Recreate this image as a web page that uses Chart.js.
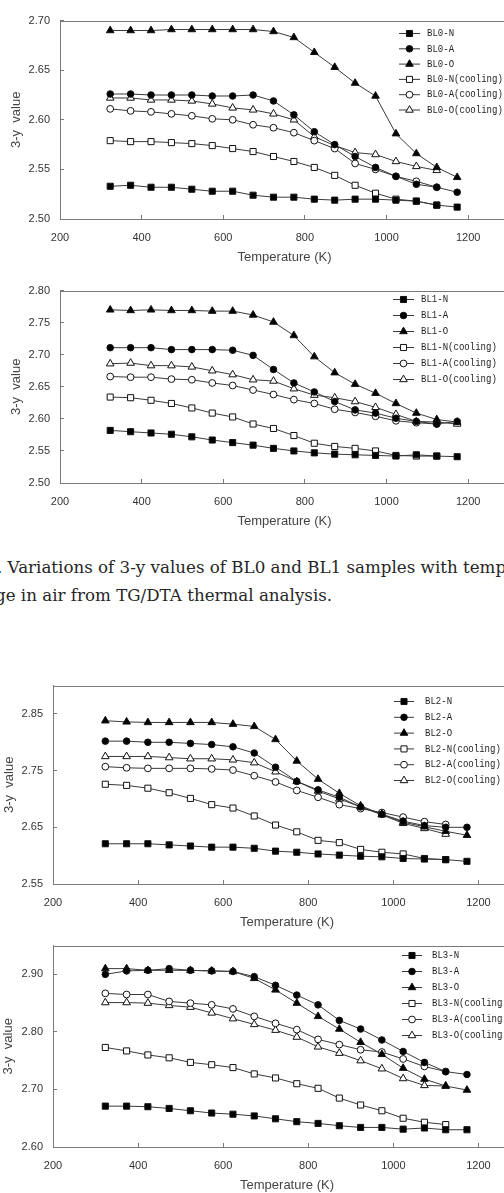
<!DOCTYPE html>
<html><head><meta charset="utf-8">
<script src="https://cdn.jsdelivr.net/npm/chart.js@4/dist/chart.umd.min.js"></script>
<style>
html,body{margin:0;padding:0;background:#fff;width:504px;height:1193px;overflow:hidden;position:relative}
.wrap{position:absolute;left:0;overflow:hidden;width:504px}
canvas{display:block}
.cap{position:absolute;font-family:"DejaVu Serif";font-size:16.7px;color:#262626;white-space:nowrap;line-height:20px}
</style></head><body>
<div class="wrap" style="top:0;height:270px"><canvas id="c1" width="560" height="270"></canvas></div>
<div class="wrap" style="top:270px;height:264px"><canvas id="c2" width="560" height="264"></canvas></div>
<div class="cap" style="left:-3px;top:557px">. Variations of 3-y values of BL0 and BL1 samples with temperature</div>
<div class="cap" style="left:-5px;top:585px">ge in air from TG/DTA thermal analysis.</div>
<div class="wrap" style="top:665px;height:265px"><canvas id="c3" width="560" height="270"></canvas></div>
<div class="wrap" style="top:925px;height:268px"><canvas id="c4" width="560" height="273"></canvas></div>
<script>
// ---- data ----
const temps = [323,373,423,473,523,573,623,673,723,773,823,873,923,973,1023,1073,1123,1173];
const xTicks = [200,400,600,800,1000,1200];
const yTicks1 = [2.50,2.55,2.60,2.65,2.70];
const yTicks2 = [2.50,2.55,2.60,2.65,2.70,2.75,2.80];
const yTicks3 = [2.55,2.65,2.75,2.85];
const yTicks4 = [2.60,2.70,2.80,2.90];
const suffixes = ["-N","-A","-O","-N(cooling)","-A(cooling)","-O(cooling)"];

const bl0N  = [2.533,2.534,2.532,2.532,2.530,2.528,2.528,2.524,2.522,2.522,2.520,2.519,2.520,2.520,2.519,2.518,2.514,2.512];
const bl0A  = [2.626,2.626,2.625,2.625,2.625,2.624,2.624,2.625,2.619,2.605,2.588,2.575,2.563,2.552,2.543,2.535,2.532,2.527];
const bl0O  = [2.690,2.690,2.690,2.691,2.691,2.691,2.691,2.691,2.689,2.683,2.668,2.653,2.637,2.624,2.586,2.566,2.552,2.542];
const bl0Nc = [2.579,2.578,2.578,2.577,2.576,2.574,2.571,2.568,2.563,2.558,2.552,2.544,2.534,2.526,2.520,2.518,2.514];
const bl0Ac = [2.611,2.609,2.608,2.606,2.604,2.601,2.600,2.595,2.592,2.587,2.579,2.571,2.556,2.550,2.543,2.538,2.532];
const bl0Oc = [2.622,2.622,2.620,2.620,2.619,2.616,2.612,2.610,2.606,2.600,2.583,2.574,2.567,2.565,2.558,2.553,2.549];

const bl1N  = [2.582,2.580,2.578,2.576,2.572,2.567,2.563,2.559,2.554,2.550,2.547,2.545,2.544,2.543,2.542,2.544,2.542,2.541];
const bl1A  = [2.711,2.711,2.711,2.708,2.708,2.708,2.707,2.699,2.677,2.656,2.642,2.627,2.614,2.609,2.601,2.596,2.592,2.596];
const bl1O  = [2.770,2.769,2.770,2.769,2.769,2.768,2.768,2.762,2.751,2.730,2.697,2.672,2.654,2.640,2.624,2.609,2.599,2.595];
const bl1Nc = [2.634,2.633,2.629,2.624,2.617,2.609,2.603,2.592,2.585,2.574,2.562,2.557,2.554,2.550,2.543,2.542,2.542];
const bl1Ac = [2.666,2.665,2.665,2.662,2.661,2.656,2.652,2.645,2.638,2.630,2.624,2.615,2.610,2.604,2.597,2.594,2.592];
const bl1Oc = [2.686,2.687,2.683,2.683,2.681,2.675,2.669,2.661,2.659,2.647,2.637,2.633,2.627,2.618,2.607,2.596,2.595,2.592];

const bl2N  = [2.621,2.621,2.621,2.619,2.617,2.615,2.615,2.613,2.608,2.606,2.603,2.601,2.599,2.598,2.595,2.594,2.593,2.590];
const bl2A  = [2.802,2.802,2.800,2.800,2.798,2.796,2.792,2.781,2.756,2.731,2.716,2.703,2.686,2.673,2.661,2.653,2.650,2.650];
const bl2O  = [2.838,2.836,2.835,2.835,2.835,2.835,2.832,2.828,2.805,2.767,2.735,2.710,2.688,2.673,2.659,2.651,2.643,2.636];
const bl2Nc = [2.726,2.724,2.719,2.711,2.701,2.690,2.684,2.670,2.654,2.642,2.627,2.623,2.611,2.606,2.603,2.595,2.593];
const bl2Ac = [2.757,2.755,2.754,2.754,2.754,2.753,2.751,2.741,2.730,2.715,2.703,2.690,2.683,2.676,2.668,2.660,2.655];
const bl2Oc = [2.775,2.775,2.775,2.773,2.771,2.771,2.769,2.764,2.748,2.731,2.714,2.700,2.686,2.672,2.657,2.648,2.638];

const bl3N  = [2.671,2.671,2.670,2.667,2.663,2.659,2.657,2.654,2.649,2.644,2.641,2.637,2.634,2.634,2.631,2.633,2.630,2.630];
const bl3A  = [2.900,2.906,2.907,2.910,2.907,2.906,2.905,2.896,2.881,2.864,2.847,2.820,2.805,2.786,2.766,2.747,2.731,2.726];
const bl3O  = [2.910,2.910,2.907,2.907,2.907,2.906,2.905,2.893,2.873,2.850,2.827,2.805,2.782,2.761,2.737,2.718,2.706,2.699];
const bl3Nc = [2.773,2.767,2.760,2.755,2.747,2.743,2.738,2.727,2.720,2.710,2.702,2.685,2.673,2.663,2.650,2.643,2.639];
const bl3Ac = [2.867,2.865,2.865,2.853,2.850,2.847,2.840,2.827,2.815,2.804,2.787,2.778,2.769,2.765,2.753,2.740,2.731];
const bl3Oc = [2.851,2.851,2.850,2.846,2.843,2.833,2.823,2.813,2.803,2.791,2.774,2.763,2.750,2.736,2.719,2.707,2.706];

// ---- styles ----
const LINE = '#3a3a3a', AXIS = '#7a7a7a', TXT = '#333';
const markStyles = [
  {ps:'rect', r:4.3, fill:'#000'},
  {ps:'circle', r:3.3, fill:'#000'},
  {ps:'triangle', r:4.4, fill:'#000'},
  {ps:'rect', r:4.3, fill:'#fff'},
  {ps:'circle', r:3.4, fill:'#fff'},
  {ps:'triangle', r:4.4, fill:'#fff'}
];

const framePlugin = {
  id:'frame',
  afterDraw(chart){
    const {ctx, chartArea:a} = chart;
    ctx.save(); ctx.strokeStyle = AXIS; ctx.lineWidth = 1;
    ctx.beginPath(); ctx.moveTo(a.left, Math.round(a.top)+0.5); ctx.lineTo(a.right, Math.round(a.top)+0.5); ctx.stroke();
    ctx.beginPath(); ctx.moveTo(Math.round(a.right)+0.5, a.top); ctx.lineTo(Math.round(a.right)+0.5, a.bottom); ctx.stroke();
    ctx.restore();
  }
};

const legendPlugin = {
  id:'boxlegend',
  afterDraw(chart, args, opts){
    const ctx = chart.ctx;
    ctx.save();
    chart.data.datasets.forEach((ds,i)=>{
      const y = opts.y0 + i*opts.step;
      ctx.strokeStyle = LINE; ctx.lineWidth = 1;
      ctx.beginPath(); ctx.moveTo(opts.x, y+0.5); ctx.lineTo(opts.x+opts.len, y+0.5); ctx.stroke();
      ctx.fillStyle = ds.pointBackgroundColor; ctx.strokeStyle = '#111';
      Chart.helpers.drawPoint(ctx, {pointStyle: ds.pointStyle, radius: ds.pointRadius, borderWidth: 1, rotation: 0}, opts.x+opts.len/2, y+0.5);
      ctx.save();
      ctx.translate(opts.tx, y+0.5); ctx.scale(0.86, 1);
      ctx.fillStyle = '#1e1e1e'; ctx.font = '10.5px "Liberation Mono"'; ctx.textBaseline = 'middle'; ctx.textAlign = 'left';
      ctx.fillText(ds.label, 0, 0);
      ctx.restore();
    });
    ctx.restore();
  }
};

function makeChart(id, prefix, series, yTicks, g){
  const datasets = series.map((vals,i)=>({
    label: prefix + suffixes[i],
    data: vals.map((v,k)=>({x: temps[k], y: v})),
    borderColor: LINE, borderWidth: 1,
    pointStyle: markStyles[i].ps, pointRadius: markStyles[i].r,
    pointBackgroundColor: markStyles[i].fill, pointBorderColor: '#111', pointBorderWidth: 1,
    tension: 0, fill: false
  }));
  const tickFont = {family:'"Liberation Sans", Arial, sans-serif', size:11};
  const titleFont = {family:'"Liberation Sans", Arial, sans-serif', size:13};
  return new Chart(document.getElementById(id), {
    type:'line',
    data:{datasets},
    plugins:[framePlugin, legendPlugin],
    options:{
      responsive:false, animation:false, devicePixelRatio:1,
      layout:{padding:{top:g.padTop, right:g.padRight, left:0, bottom:0}},
      plugins:{legend:{display:false}, tooltip:{enabled:false},
        boxlegend:{x:g.lx, len:g.llen, tx:g.tx, y0:g.ly, step:g.lstep}},
      scales:{
        x:{type:'linear', min:200, max:1300,
          afterBuildTicks:s=>{s.ticks = xTicks.map(v=>({value:v}));},
          afterFit:s=>{s.height = 51;},
          ticks:{font:tickFont, color:TXT, padding:16, maxRotation:0, autoSkip:false, callback:v=>String(v)},
          grid:{display:true, drawOnChartArea:false, drawTicks:true, tickLength:-4, color:AXIS},
          border:{display:true, color:AXIS, width:1},
          title:{display:true, text:'Temperature (K)', font:titleFont, color:'#444', padding:{top:0,bottom:5}}
        },
        y:{type:'linear', min:g.yMin, max:g.yMax,
          afterBuildTicks:s=>{s.ticks = yTicks.map(v=>({value:v}));},
          afterFit:s=>{s.width = g.yWidth;},
          ticks:{font:tickFont, color:TXT, padding:14, autoSkip:false, callback:v=>Number(v).toFixed(2)},
          grid:{display:true, drawOnChartArea:false, drawTicks:true, tickLength:-4, color:AXIS},
          border:{display:true, color:AXIS, width:1},
          title:{display:true, text:'3-y  value', font:titleFont, color:'#444', padding:{top:g.ytPad,bottom:0}}
        }
      }
    }
  });
}

makeChart('c1','BL0',[bl0N,bl0A,bl0O,bl0Nc,bl0Ac,bl0Oc], yTicks1,
  {padTop:19, padRight:51, yWidth:60, yMin:2.50, yMax:2.70, lx:399, llen:21, tx:427, ly:33, lstep:15.3, ytPad:9});
makeChart('c2','BL1',[bl1N,bl1A,bl1O,bl1Nc,bl1Ac,bl1Oc], yTicks2,
  {padTop:13, padRight:51, yWidth:60, yMin:2.50, yMax:2.80, lx:393, llen:21, tx:421, ly:29, lstep:16, ytPad:9});
makeChart('c3','BL2',[bl2N,bl2A,bl2O,bl2Nc,bl2Ac,bl2Oc], yTicks3,
  {padTop:16, padRight:39, yWidth:53, yMin:2.55, yMax:2.90, lx:394, llen:20, tx:425, ly:36, lstep:15.8, ytPad:2});
makeChart('c4','BL3',[bl3N,bl3A,bl3O,bl3Nc,bl3Ac,bl3Oc], yTicks4,
  {padTop:18, padRight:39, yWidth:53, yMin:2.60, yMax:2.95, lx:402, llen:20, tx:432, ly:30, lstep:16, ytPad:1});
</script>
</body></html>
